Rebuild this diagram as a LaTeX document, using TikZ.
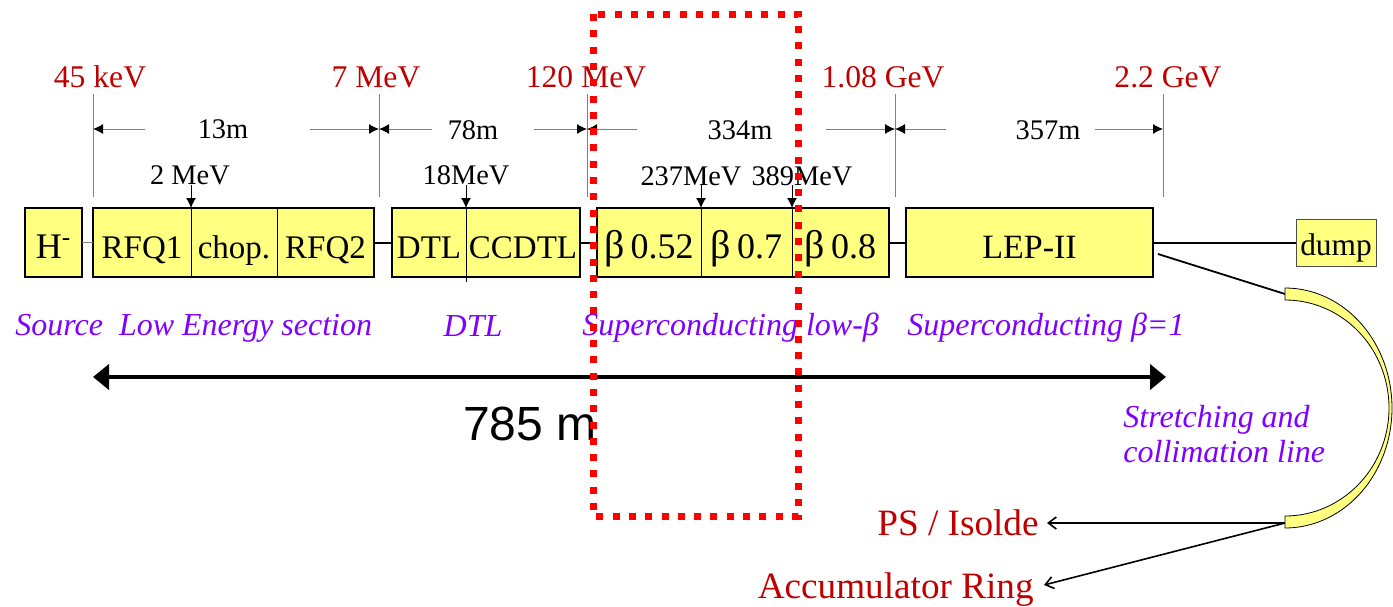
\documentclass[tikz,border=0pt]{standalone}
\usepackage{fontspec}
\setmainfont{Liberation Serif}[ItalicFont={Liberation Serif Italic},BoldFont={Liberation Serif Bold}]
\newfontfamily\arialf{Liberation Sans}
\usetikzlibrary{arrows.meta,calc}
\definecolor{boxyellow}{RGB}{255,255,128}
\definecolor{ered}{RGB}{192,0,0}
\definecolor{vio}{RGB}{128,0,255}
\definecolor{tickgray}{RGB}{128,128,128}
\newcommand{\fsz}[1]{\fontsize{#1}{#1}\selectfont}
\begin{document}
\begin{tikzpicture}[x=0.5pt,y=-0.5pt,
  energy/.style={text=ered, font=\fsz{15.8}, anchor=base, inner sep=0pt},
  dimtxt/.style={font=\fsz{14.2}, anchor=base, inner sep=0pt},
  seg/.style={fill=boxyellow, draw=black, line width=0.5pt, inner sep=0pt, outer sep=0pt,
              text height=25pt, text depth=9.5pt, anchor=north west, font=\fsz{16.5}},
  betaseg/.style={seg, font=\fsz{18}},
  boxframe/.style={draw=black, line width=0.9pt},
  tickline/.style={draw=tickgray, line width=0.5pt},
  dimarrow/.style={draw=tickgray, line width=0.5pt, -{Latex[length=5pt,width=5pt,color=black]}},
  emark/.style={draw=black, line width=0.5pt, -{Latex[length=5pt,width=5pt]}},
  seclabel/.style={text=vio, font=\itshape\fsz{16}, inner sep=0pt},
  linkline/.style={draw=black, line width=1pt},
  outarrow/.style={draw=black, line width=0.8pt, -{Straight Barb[length=4pt,width=6pt]}},
  bigarrow/.style={draw=black, line width=2pt, {Triangle[length=8pt,width=12.5pt]}-{Triangle[length=8pt,width=12.5pt]}},
  dotrect/.style={draw=red, line width=3.5pt, dash pattern=on 3.5pt off 4.65pt},
  bigred/.style={text=ered, font=\fsz{18.6}, inner sep=0pt}
  ]
\fill[white] (0,0) rectangle (1393,606);
\useasboundingbox (0,0) rectangle (1393,606);

% energy labels
\node[energy] (e1) at (100,87) {45 keV};
\node[energy] (e2) at (376,87) {7 MeV};
\node[energy] (e3) at (586,87) {120 MeV};
\node[energy] (e4) at (883,87) {1.08 GeV};
\node[energy] (e5) at (1168,87) {2.2 GeV};

% tick lines
\foreach \i/\xx in {1/93,2/379,3/587,4/895,5/1163}{
  \coordinate (tt\i) at (\xx,94);
  \coordinate (tb\i) at (\xx,197);
  \coordinate (k\i) at (\xx,129);
  \draw[tickline] (tt\i) -- (tb\i);
}

% dimension lines
\node[dimtxt] (d1) at (223,138) {13m};
\node[dimtxt] (d2) at (473,139) {78m};
\node[dimtxt] (d3) at (740,139) {334m};
\node[dimtxt] (d4) at (1048,139) {357m};
\coordinate (g1l) at (145,129); \coordinate (g1r) at (310,129);
\coordinate (g2l) at (432,129); \coordinate (g2r) at (534,129);
\coordinate (g3l) at (637,129); \coordinate (g3r) at (826,129);
\coordinate (g4l) at (946,129); \coordinate (g4r) at (1095,129);
\draw[dimarrow] (g1l) -- (k1); \draw[dimarrow] (g1r) -- (k2);
\draw[dimarrow] (g2l) -- (k2); \draw[dimarrow] (g2r) -- (k3);
\draw[dimarrow] (g3l) -- (k3); \draw[dimarrow] (g3r) -- (k4);
\draw[dimarrow] (g4l) -- (k4); \draw[dimarrow] (g4r) -- (k5);

% boxes
\node[seg, font=\fsz{18}, minimum width=28.5pt] (hbox) at (25,208) {H\textsuperscript{-}\hspace{7pt}};
\node[seg, minimum width=49pt] (rfq1) at (93,208) {RFQ1};
\node[seg, minimum width=43pt] (chop) at (191,208) {chop.};
\node[seg, minimum width=48.5pt] (rfq2) at (277,208) {RFQ2};
\node[seg, minimum width=37pt] (dtl) at (392,208) {DTL};
\node[seg, minimum width=57pt] (ccdtl) at (466,208) {CCDTL};
\node[betaseg, minimum width=52pt] (b52) at (597,208) {{\fsz{20}β}\,0.52};
\node[betaseg, minimum width=45.5pt] (b7) at (701,208) {{\fsz{20}β}\,0.7};
\node[betaseg, minimum width=48.5pt] (b8) at (792,208) {{\fsz{20}β}\,0.8};
\node[seg, font=\fsz{17}, minimum width=123.5pt] (lep) at (906,208) {LEP-II};
\node[seg, draw=black!70, font=\fsz{15.7}, text height=18pt, text depth=5.5pt, minimum width=40pt] (dump) at (1296,219) {dump};

\draw[boxframe] (hbox.north west) rectangle (hbox.south east);
\draw[boxframe] (rfq1.north west) rectangle (rfq2.south east);
\draw[boxframe] (dtl.north west) rectangle (ccdtl.south east);
\draw[boxframe] (b52.north west) rectangle (b8.south east);
\draw[boxframe] (lep.north west) rectangle (lep.south east);
\draw[line width=0.5pt] (dtl.south east) -- ++(0,5);

% connectors between boxes
\draw[tickline] (hbox.east) -- (rfq1.west);
\draw[linkline] (rfq2.east) -- (dtl.west);
\draw[linkline] (ccdtl.east) -- (b52.west);
\draw[linkline] (b8.east) -- (lep.west);
\draw[linkline] (lep.east) -- (dump.west);

% intermediate energies
\node[dimtxt] (m1) at (190,184) {2 MeV};
\node[dimtxt] (m2) at (466,184) {18MeV};
\node[dimtxt] (m3) at (691,185) {237MeV};
\node[dimtxt] (m4) at (802,185) {389MeV};
\draw[emark] ([yshift=11.5pt]rfq1.north east) -- (rfq1.north east);
\draw[emark] ([yshift=11.5pt]dtl.north east) -- (dtl.north east);
\draw[emark] ([yshift=11.5pt]b52.north east) -- (b52.north east);
\draw[emark] ([yshift=11.5pt]b7.north east) -- (b7.north east);

% section labels
\node[seclabel, anchor=base west] (s1) at (15,335) {Source\ \ Low Energy section};
\node[seclabel, anchor=base] (s2) at (473,336) {DTL};
\node[seclabel, anchor=base west] (s3) at (582,335) {Superconducting low-β};
\node[seclabel, anchor=base west] (s4) at (907,335) {Superconducting β=1};

% total length
\coordinate (la) at (93,377);
\coordinate (ra) at (1166,377);
\draw[bigarrow] (la) -- (ra);
\node[font=\arialf\fsz{24}, anchor=base, inner sep=0pt] (len) at (530,440) {785 m};

% stretching and collimation line
\coordinate (lepout) at (1158,254);
\coordinate (arctop) at (1285,294);
\coordinate (arcbot) at (1285,523);
\draw[line width=0.9pt] (lepout) -- (arctop);
\draw[fill=boxyellow, line width=0.4pt]
  plot[domain=-90:90, samples=61, smooth] ({1285+107*cos(\x)},{408+120*sin(\x)})
  -- plot[domain=90:-90, samples=61, smooth] ({1285+104*cos(\x)},{408+108*sin(\x)}) -- cycle;
\node[seclabel, anchor=base west, align=left, font=\itshape\fontsize{16}{17.5}\selectfont] (sc) at (1123,462) {Stretching and\\collimation line};

\node[bigred, anchor=base east] (ps) at (1039,535) {PS / Isolde};
\node[bigred, anchor=base east] (acc) at (1034,598) {Accumulator Ring};
\coordinate (pstip) at (1047,523);
\coordinate (acctip) at (1044,585);
\draw[outarrow] (arcbot) -- (pstip);
\draw[outarrow] (arcbot) -- (acctip);

% highlight
\draw[dotrect] (593,14) rectangle (798,516);
\end{tikzpicture}
\end{document}
